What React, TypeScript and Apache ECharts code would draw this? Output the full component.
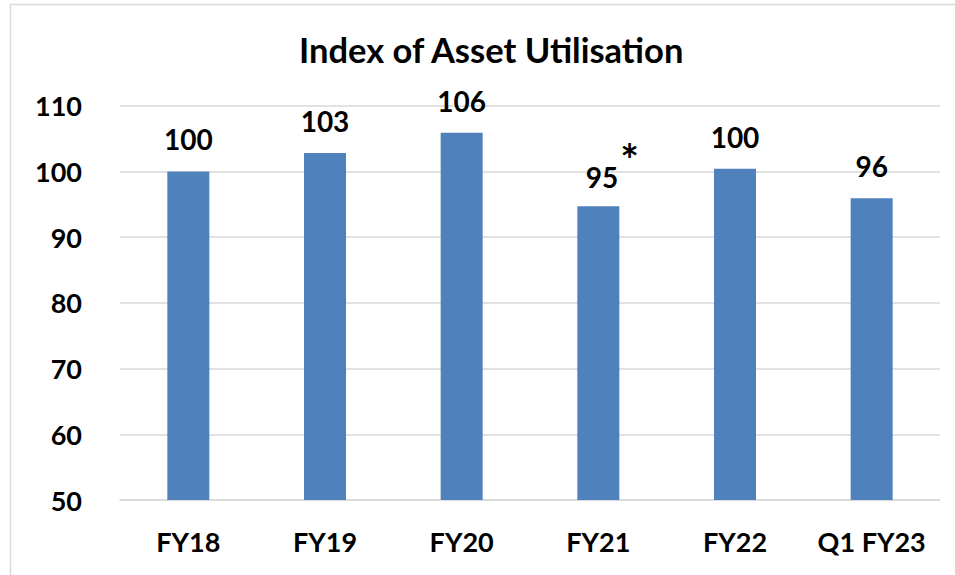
import React, { useEffect, useRef } from "react";
import * as echarts from "echarts";

const title = "Index of Asset Utilisation";
const categories = ["FY18", "FY19", "FY20", "FY21", "FY22", "Q1 FY23"];
const values = [100.0, 102.8, 105.9, 94.7, 100.4, 95.9];
const labelTexts = ["100", "103", "106", "95", "100", "96"];
const footnoteMarks = ["", "", "", "*", "", ""];
const yMin = 50;
const yMax = 110;
const yInterval = 10;

const FONT = "Lato, 'Open Sans', sans-serif";

export default function App() {
  const ref = useRef<HTMLDivElement>(null);
  useEffect(() => {
    document.body.style.margin = "0";
    if (!ref.current) return;
    const chart = echarts.init(ref.current, null, { renderer: "svg" });
    chart.setOption({
      animation: false,
      backgroundColor: "#ffffff",
      title: {
        text: title,
        left: 294,
        top: 27,
        textStyle: { fontFamily: FONT, fontWeight: "bold", fontSize: 34.5, color: "#000" },
      },
      graphic: [
        { type: "line", shape: { x1: 10, y1: 4.5, x2: 955, y2: 4.5 }, style: { stroke: "#d9d9d9", lineWidth: 1.5 } },
        { type: "line", shape: { x1: 10.5, y1: 4, x2: 10.5, y2: 575 }, style: { stroke: "#d9d9d9", lineWidth: 1.5 } },
      ],
      grid: { left: 120, right: 15, top: 105.7, bottom: 75, containLabel: false },
      xAxis: {
        type: "category",
        data: categories,
        axisLine: { show: true, lineStyle: { color: "#d9d9d9", width: 1.5 } },
        axisTick: { show: false },
        axisLabel: {
          interval: 0,
          fontFamily: FONT,
          fontWeight: "bold",
          fontSize: 27,
          color: "#000",
          margin: 28,
        },
      },
      yAxis: {
        type: "value",
        min: yMin,
        max: yMax,
        interval: yInterval,
        axisLine: { show: false },
        axisTick: { show: false },
        splitLine: { lineStyle: { color: "#d9d9d9", width: 1.5 } },
        axisLabel: {
          fontFamily: FONT,
          fontWeight: "bold",
          fontSize: 27,
          color: "#000",
          margin: 38,
        },
      },
      series: [
        {
          type: "bar",
          data: values.map((v, i) => ({
            value: v,
            label: footnoteMarks[i]
              ? {
                  formatter: `{v|${labelTexts[i]}}{s|${footnoteMarks[i]}}`,
                  offset: [14, 29],
                }
              : { formatter: `{v|${labelTexts[i]}}` },
          })),
          barWidth: 42,
          itemStyle: { color: "#4f81bd" },
          label: {
            show: true,
            position: "top",
            distance: 18,
            rich: {
              v: { fontFamily: FONT, fontWeight: "bold", fontSize: 28, color: "#000" },
              s: {
                fontFamily: FONT,
                fontWeight: "bold",
                fontSize: 44,
                color: "#000",
                padding: [0, 0, 36, 2],
              },
            },
          },
        },
      ],
    });
    return () => chart.dispose();
  }, []);
  return <div ref={ref} style={{ width: 955, height: 575 }} />;
}
